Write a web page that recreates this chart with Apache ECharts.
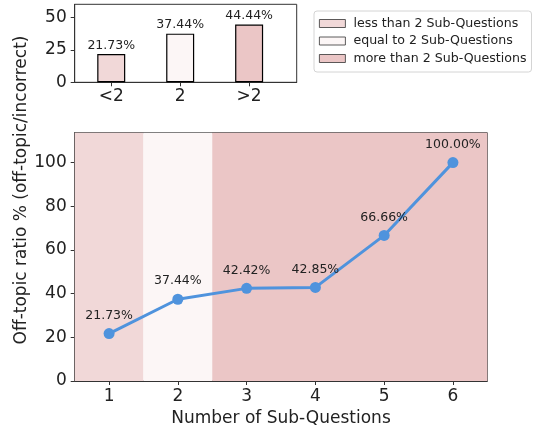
<!DOCTYPE html>
<html>
<head>
<meta charset="utf-8">
<script src="https://cdn.jsdelivr.net/npm/echarts@6/dist/echarts.min.js"></script>
<style>
  html, body { margin: 0; padding: 0; background: #fff; }
  #chart { width: 535px; height: 432px; }
</style>
</head>
<body>
<div id="chart"></div>
<script>
// top bar chart
const groupLabels = ['<2', '2', '>2'];
const groupNames = ['less than 2 Sub-Questions', 'equal to 2 Sub-Questions', 'more than 2 Sub-Questions'];
const groupRatio = [21.73, 37.44, 44.44];
const groupColors = ['#f1d8d8', '#fcf6f6', '#ebc6c6'];

// main line chart
const subQuestions = [1, 2, 3, 4, 5, 6];
const offTopicRatio = [21.73, 37.44, 42.42, 42.85, 66.66, 100];
const topTicks = [0, 25, 50];
const mainTicks = [0, 20, 40, 60, 80, 100];

const font = 'DejaVu Sans';
const dark = '#222';

const chart = echarts.init(document.getElementById('chart'), null, { renderer: 'canvas' });

let barSeries = groupRatio.map((v, i) => {
    return {
        name: groupNames[i],
        type: 'bar',
        xAxisIndex: 0,
        yAxisIndex: 0,
        stack: 'grp',
        barWidth: 28,
        data: [[i, v]],
        itemStyle: { color: groupColors[i], borderColor: '#000', borderWidth: 1.2 },
        label: {
            show: true, position: 'top', distance: 2,
            formatter: p => p.value[1].toFixed(2) + '%',
            fontFamily: font, fontSize: 12.5, color: dark
        },
        silent: true
    };
});

let axisCommon = {
    axisLine: { show: true, onZero: false, lineStyle: { color: '#333', width: 1 } },
    axisTick: { show: true, inside: false, length: 4, lineStyle: { color: '#333' } },
    splitLine: { show: false },
    axisLabel: { fontFamily: font, fontSize: 17, color: dark }
};

let option = {
    animation: false,
    backgroundColor: '#fff',
    grid: [
        { left: 74.7, top: 4.3, width: 222, height: 78, show: true, borderColor: '#333', borderWidth: 1, backgroundColor: 'transparent' },
        { left: 74.7, top: 132.7, width: 412.6, height: 249.6, show: true, borderColor: '#333', borderWidth: 1, backgroundColor: 'transparent' }
    ],
    legend: {
        orient: 'vertical',
        left: 314, top: 11,
        padding: [5, 5, 6, 5],
        itemGap: 2.5,
        itemWidth: 26,
        itemHeight: 8,
        icon: 'rect',
        selectedMode: false,
        borderColor: '#d4d4d4',
        borderWidth: 1,
        borderRadius: 3,
        backgroundColor: '#fff',
        itemStyle: { borderColor: '#333', borderWidth: 0.8 },
        textStyle: { fontFamily: font, fontSize: 12.6, color: dark, padding: [0, 0, 0, 3], lineHeight: 15 },
        data: groupNames
    },
    xAxis: [
        Object.assign({}, axisCommon, {
            type: 'value', gridIndex: 0, min: -0.53, max: 2.69,
            axisTick: Object.assign({}, axisCommon.axisTick, { customValues: [0, 1, 2] }),
            axisLabel: Object.assign({}, axisCommon.axisLabel, {
                customValues: [0, 1, 2], margin: 6,
                formatter: v => groupLabels[Math.round(v)]
            })
        }),
        Object.assign({}, axisCommon, {
            type: 'value', gridIndex: 1, min: 0.5, max: 6.5,
            name: 'Number of Sub-Questions', nameLocation: 'middle', nameGap: 29,
            nameTextStyle: { fontFamily: font, fontSize: 17, color: dark },
            axisTick: Object.assign({}, axisCommon.axisTick, { customValues: subQuestions }),
            axisLabel: Object.assign({}, axisCommon.axisLabel, { customValues: subQuestions, margin: 7 })
        })
    ],
    yAxis: [
        Object.assign({}, axisCommon, {
            type: 'value', gridIndex: 0, min: 0, max: 60,
            axisTick: Object.assign({}, axisCommon.axisTick, { customValues: topTicks }),
            axisLabel: Object.assign({}, axisCommon.axisLabel, { customValues: topTicks, margin: 8 })
        }),
        Object.assign({}, axisCommon, {
            type: 'value', gridIndex: 1, min: 0, max: 113.7,
            axisTick: Object.assign({}, axisCommon.axisTick, { customValues: mainTicks }),
            axisLabel: Object.assign({}, axisCommon.axisLabel, { customValues: mainTicks, margin: 8 })
        })
    ],
    graphic: [{
        type: 'text',
        x: 22, y: 190,
        rotation: Math.PI / 2,
        style: {
            text: 'Off-topic ratio % (off-topic/incorrect)',
            fontFamily: font, fontSize: 17, fill: dark,
            textAlign: 'center', textVerticalAlign: 'middle'
        }
    }],
    series: barSeries.concat([{
        type: 'line',
        xAxisIndex: 1,
        yAxisIndex: 1,
        data: subQuestions.map((x, i) => [x, offTopicRatio[i]]),
        symbol: 'circle',
        symbolSize: 11,
        lineStyle: { color: '#4f93dd', width: 3 },
        itemStyle: { color: '#4f93dd' },
        label: {
            show: true, position: 'top', distance: 6,
            formatter: p => p.value[1].toFixed(2) + '%',
            fontFamily: font, fontSize: 12.5, color: dark
        },
        markArea: {
            silent: true,
            data: [
                [{ xAxis: 0.5, itemStyle: { color: groupColors[0] } }, { xAxis: 1.5 }],
                [{ xAxis: 1.5, itemStyle: { color: groupColors[1] } }, { xAxis: 2.5 }],
                [{ xAxis: 2.5, itemStyle: { color: groupColors[2] } }, { xAxis: 6.5 }]
            ]
        },
        z: 3
    }])
};

chart.setOption(option);
</script>
</body>
</html>
